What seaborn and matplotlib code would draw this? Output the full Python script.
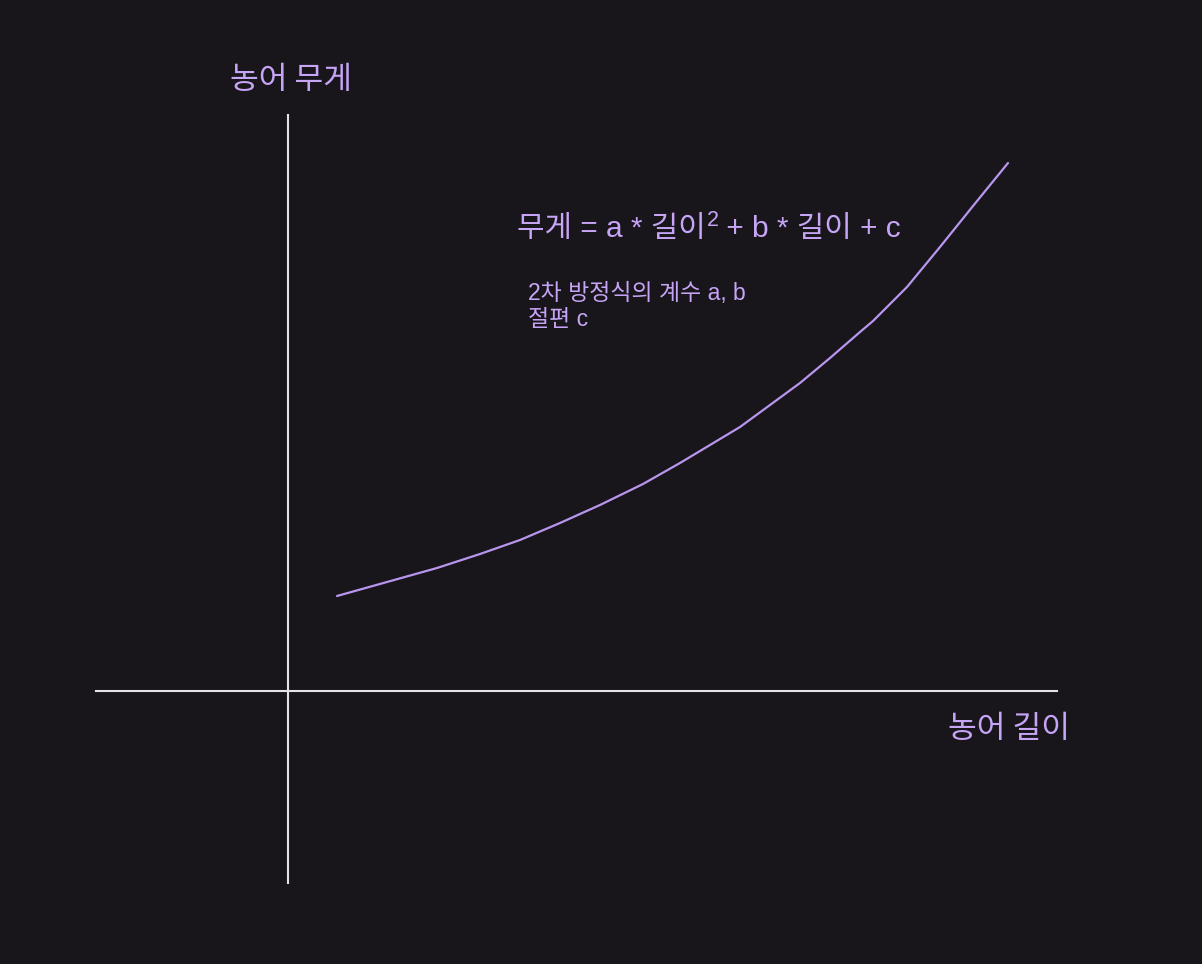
import matplotlib
matplotlib.use("Agg")
import matplotlib.pyplot as plt
import seaborn as sns
import pandas as pd

# ---- data (arbitrary units) ----
length = [4.9, 9.9, 14.9, 19.2, 23.2, 27.2, 31.2, 35.5, 39.2, 42.2,
          45.2, 48.2, 51.2, 54.2, 57.2, 58.5, 61.9, 65.2, 68.5, 72.0]
weight = [9.5, 10.9, 12.3, 13.7, 15.1, 16.8, 18.6, 20.7, 22.8, 24.6,
          26.4, 28.6, 30.8, 33.3, 35.9, 37.0, 40.4, 44.4, 48.5, 52.8]

x_label = "농어 길이"
y_label = "농어 무게"
formula_main = "무게 = a * 길이"
formula_sup = "2"
formula_rest = " + b * 길이 + c"
note_lines = ["2차 방정식의 계수 a, b", "절편 c"]

BG = "#18151b"
TXT = "#c6a4f6"
LINE = "#b996ee"
AXIS = "#e4e2e6"

sns.set_theme(style="dark", rc={"axes.facecolor": BG, "figure.facecolor": BG})
plt.rcParams["font.family"] = ["Liberation Sans", "Noto Sans CJK KR", "DejaVu Sans"]

df = pd.DataFrame({"length": length, "weight": weight})

fig = plt.figure(figsize=(12.02, 9.64), dpi=100)
ax = fig.add_axes([0, 0, 1, 1])
ax.set_facecolor(BG)

sns.lineplot(data=df, x="length", y="weight", ax=ax, color=LINE,
             linewidth=1.6, sort=False, estimator=None)

ax.set_xlim(-28.8, 91.4)
ax.set_ylim(-27.3, 69.1)
ax.set_xlabel("")
ax.set_ylabel("")
ax.set_xticks([])
ax.set_yticks([])
ax.grid(False)

for s in ["top", "right"]:
    ax.spines[s].set_visible(False)
ax.spines["left"].set_position(("data", 0))
ax.spines["bottom"].set_position(("data", 0))
ax.spines["left"].set_bounds(-19.2, 57.6)
ax.spines["bottom"].set_bounds(-19.2, 76.9)
for s in ["left", "bottom"]:
    ax.spines[s].set_visible(True)
    ax.spines[s].set_color(AXIS)
    ax.spines[s].set_linewidth(1.5)

lab_font = ["Noto Sans CJK KR", "DejaVu Sans"]
ax.text(0.35, 60.2, y_label, ha="center", va="baseline", fontsize=22.5,
        color=TXT, family=lab_font)
ax.text(72.1, -4.75, x_label, ha="center", va="baseline", fontsize=22.5,
        color=TXT, family=lab_font)

fam = ["Liberation Sans", "Noto Sans CJK KR", "DejaVu Sans"]
yb = 45.43
t1 = ax.text(22.9, yb, formula_main, ha="left", va="baseline", fontsize=21.5,
             color=TXT, family=fam)
t2 = ax.annotate(formula_sup, xy=(1, yb), xycoords=(t1, "data"),
                 xytext=(0.5, 7.7), textcoords="offset points",
                 ha="left", va="baseline", fontsize=15.5, color=TXT, family=fam)
t3 = ax.annotate(formula_rest, xy=(1, yb), xycoords=(t2, "data"),
                 xytext=(0, 0), textcoords="offset points",
                 ha="left", va="baseline", fontsize=21.5, color=TXT, family=fam)

ax.text(24.0, 39.1, note_lines[0], ha="left", va="baseline", fontsize=16.5,
        color=TXT, family=fam)
ax.text(24.0, 36.5, note_lines[1], ha="left", va="baseline", fontsize=16.5,
        color=TXT, family=fam)

fig.savefig("out.png", dpi=100, facecolor=BG)
